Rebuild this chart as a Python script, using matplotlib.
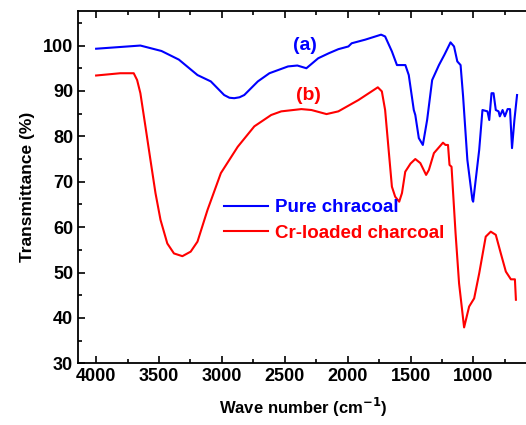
import matplotlib
matplotlib.use('Agg')
import matplotlib.pyplot as plt
from matplotlib.ticker import MultipleLocator

plt.rcParams['font.family'] = ['Liberation Sans', 'DejaVu Sans']
plt.rcParams['font.weight'] = 'bold'

# (a) pure charcoal
wn_a = [4000, 3648, 3480, 3342, 3194, 3088, 2982, 2940, 2902, 2860, 2822, 2714, 2622,
        2474, 2400, 2328, 2234, 2150, 2074, 1994, 1968, 1860, 1734, 1702, 1648, 1608,
        1541, 1514, 1474, 1462, 1434, 1402, 1368, 1328, 1274, 1230, 1182, 1154, 1128,
        1102, 1082, 1048, 1008, 1002, 954, 928, 888, 874, 856, 840, 822, 800, 790,
        768, 750, 728, 709, 693, 674, 653]
t_a = [99.3, 100.0, 98.8, 96.9, 93.5, 92.1, 89.1, 88.5, 88.4, 88.6, 89.1, 92.1, 93.9,
       95.4, 95.6, 95.0, 97.2, 98.3, 99.2, 99.8, 100.5, 101.3, 102.4, 102.0, 98.7, 95.7,
       95.7, 93.5, 85.8, 84.7, 79.6, 78.1, 83.6, 92.4, 95.7, 98.0, 100.7, 99.8, 96.5,
       95.7, 88.8, 74.8, 66.0, 65.6, 77.0, 85.8, 85.5, 83.6, 89.5, 89.5, 85.8, 85.5, 84.4,
       85.8, 84.4, 86.0, 86.0, 77.4, 83.6, 89.1]

# (b) Cr-loaded charcoal
wn_b = [4000, 3808, 3701, 3674, 3648, 3608, 3568, 3528, 3488, 3434, 3381, 3314, 3248,
        3194, 3114, 3008, 2874, 2742, 2608, 2528, 2368, 2288, 2168, 2074, 1914, 1760,
        1728, 1702, 1674, 1648, 1622, 1590, 1568, 1542, 1500, 1462, 1422, 1376, 1354,
        1314, 1242, 1222, 1202, 1190, 1174, 1142, 1114, 1074, 1034, 994, 954, 902, 862,
        822, 782, 742, 702, 670, 662]
t_b = [93.4, 93.9, 93.9, 92.4, 89.5, 82.2, 74.8, 67.5, 61.6, 56.4, 54.2, 53.6, 54.6,
       56.8, 63.8, 71.9, 77.7, 82.2, 84.7, 85.5, 86.0, 85.8, 84.9, 85.5, 88.0, 90.8,
       89.9, 85.8, 77.0, 68.9, 66.7, 65.6, 67.5, 72.2, 74.0, 75.0, 74.1, 71.5, 72.6,
       76.3, 78.6, 78.1, 78.1, 73.7, 73.3, 58.7, 47.6, 37.9, 42.5, 44.3, 49.8, 57.9,
       59.0, 58.3, 54.2, 50.2, 48.5, 48.5, 44.0]

x_ticks = [4000, 3500, 3000, 2500, 2000, 1500, 1000]
y_ticks = [30, 40, 50, 60, 70, 80, 90, 100]

fig = plt.figure(figsize=(5.26, 4.25), dpi=100)
ax = fig.add_axes([0.1483, 0.1452, 0.855, 0.8288])

ax.plot(wn_a, t_a, color='#0000ff', lw=1.5, label='Pure chracoal')
ax.plot(wn_b, t_b, color='#ff0000', lw=1.5, label='Cr-loaded charcoal')

ax.text(2336, 100.0, '(a)', color='#0000ff', fontsize=14, fontweight='bold',
        ha='center', va='center')
ax.text(2314, 89.1, '(b)', color='#ff0000', fontsize=14, fontweight='bold',
        ha='center', va='center')

ax.set_xlim(4144, 568)
ax.set_ylim(30, 107.6)
ax.set_xticks(x_ticks)
ax.set_yticks(y_ticks)
ax.xaxis.set_minor_locator(MultipleLocator(250))
ax.yaxis.set_minor_locator(MultipleLocator(5))
ax.tick_params(which='both', direction='in', top=True, right=False,
               labelsize=13, width=1.2)
ax.tick_params(which='major', length=5)
ax.tick_params(which='minor', length=3)
for lab in ax.get_xticklabels() + ax.get_yticklabels():
    lab.set_fontweight('bold')
for sp in ax.spines.values():
    sp.set_linewidth(1.3)

ax.set_xlabel('Wave number (cm$^{\\mathbf{-1}}$)', fontsize=12, fontweight='bold', labelpad=8)
ax.set_ylabel('Transmittance (%)', fontsize=12.5, fontweight='bold', labelpad=6)

leg = ax.legend(loc='upper left', bbox_to_anchor=(0.309, 0.487), frameon=False,
                fontsize=13.5, handlelength=2.3, handletextpad=0.4, labelspacing=0.43,
                borderaxespad=0)
for txt, c in zip(leg.get_texts(), ['#0000ff', '#ff0000']):
    txt.set_color(c)
    txt.set_fontweight('bold')

fig.savefig('out.png', dpi=100)
